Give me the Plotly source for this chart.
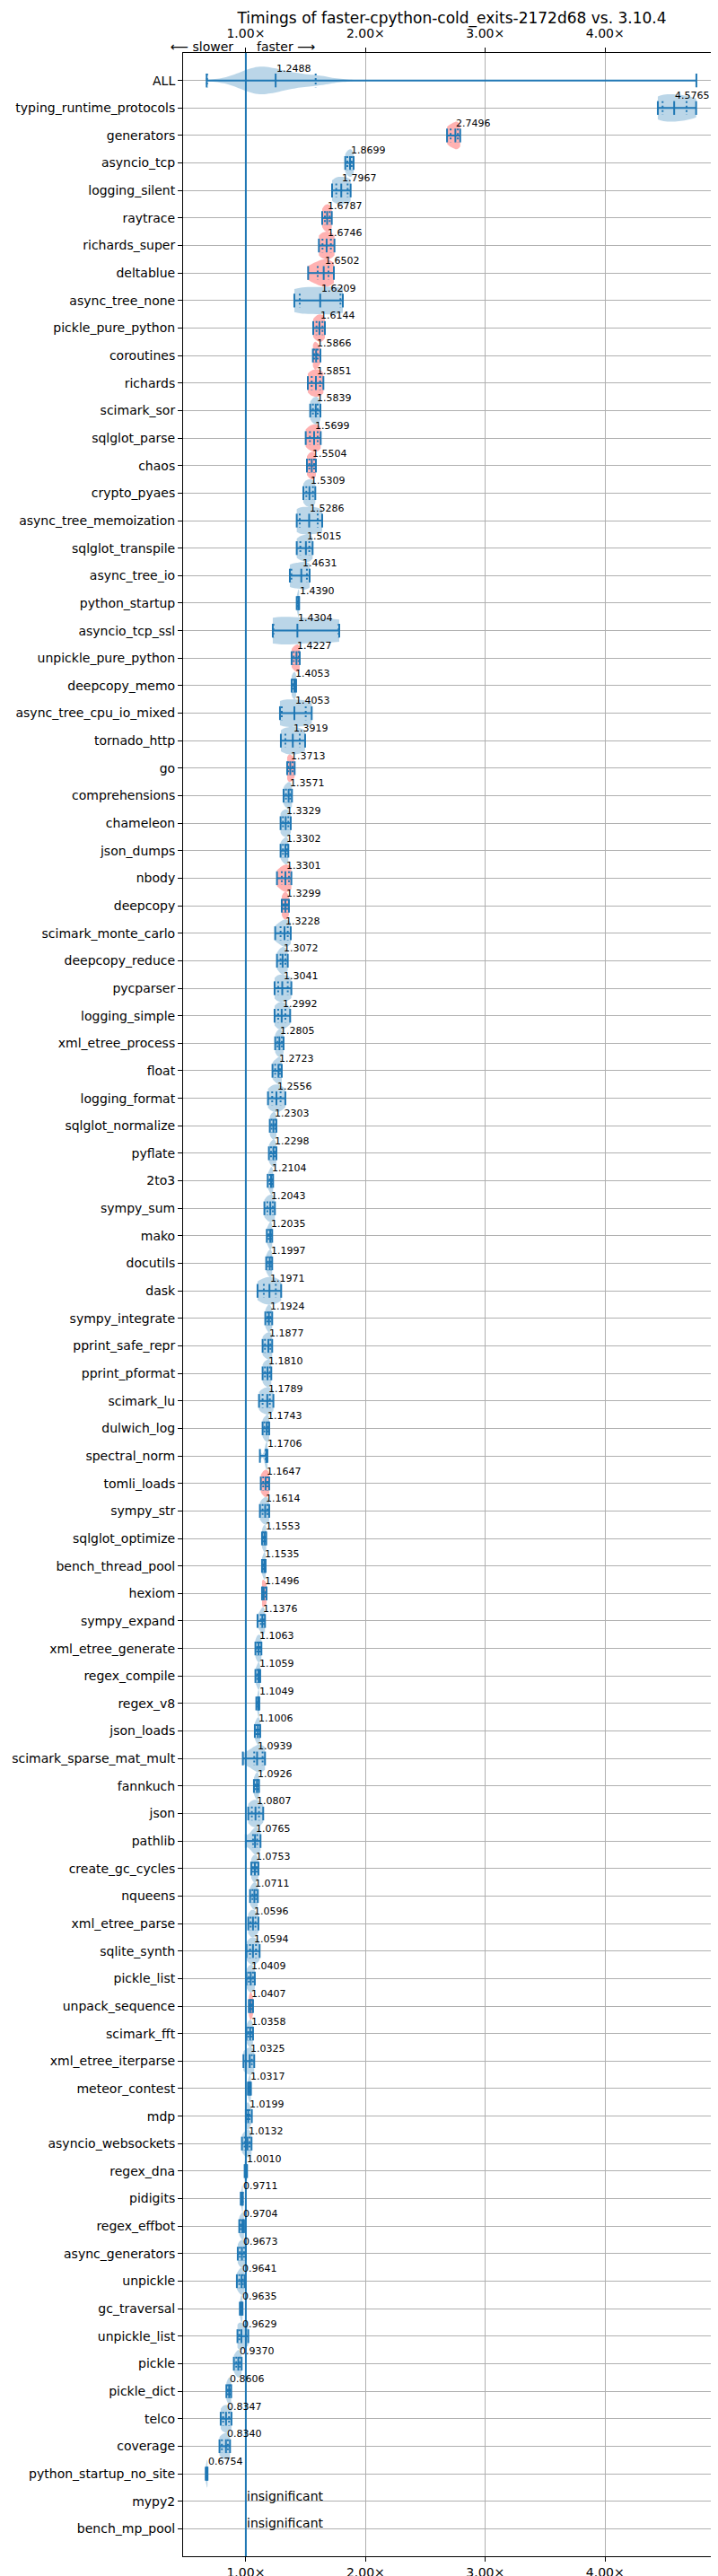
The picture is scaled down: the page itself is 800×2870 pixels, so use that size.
import plotly.graph_objects as go

TITLE = "Timings of faster-cpython-cold_exits-2172d68 vs. 3.10.4"

benchmarks = [
    "ALL", "typing_runtime_protocols", "generators", "asyncio_tcp", "logging_silent",
    "raytrace", "richards_super", "deltablue", "async_tree_none", "pickle_pure_python",
    "coroutines", "richards", "scimark_sor", "sqlglot_parse", "chaos",
    "crypto_pyaes", "async_tree_memoization", "sqlglot_transpile", "async_tree_io", "python_startup",
    "asyncio_tcp_ssl", "unpickle_pure_python", "deepcopy_memo", "async_tree_cpu_io_mixed", "tornado_http",
    "go", "comprehensions", "chameleon", "json_dumps", "nbody",
    "deepcopy", "scimark_monte_carlo", "deepcopy_reduce", "pycparser", "logging_simple",
    "xml_etree_process", "float", "logging_format", "sqlglot_normalize", "pyflate",
    "2to3", "sympy_sum", "mako", "docutils", "dask",
    "sympy_integrate", "pprint_safe_repr", "pprint_pformat", "scimark_lu", "dulwich_log",
    "spectral_norm", "tomli_loads", "sympy_str", "sqlglot_optimize", "bench_thread_pool",
    "hexiom", "sympy_expand", "xml_etree_generate", "regex_compile", "regex_v8",
    "json_loads", "scimark_sparse_mat_mult", "fannkuch", "json", "pathlib",
    "create_gc_cycles", "nqueens", "xml_etree_parse", "sqlite_synth", "pickle_list",
    "unpack_sequence", "scimark_fft", "xml_etree_iterparse", "meteor_contest", "mdp",
    "asyncio_websockets", "regex_dna", "pidigits", "regex_effbot", "async_generators",
    "unpickle", "gc_traversal", "unpickle_list", "pickle", "pickle_dict",
    "telco", "coverage", "python_startup_no_site", "mypy2", "bench_mp_pool",
]

medians = [
    1.2488, 4.5765, 2.7496, 1.8699, 1.7967,
    1.6787, 1.6746, 1.6502, 1.6209, 1.6144,
    1.5866, 1.5851, 1.5839, 1.5699, 1.5504,
    1.5309, 1.5286, 1.5015, 1.4631, 1.4390,
    1.4304, 1.4227, 1.4053, 1.4053, 1.3919,
    1.3713, 1.3571, 1.3329, 1.3302, 1.3301,
    1.3299, 1.3228, 1.3072, 1.3041, 1.2992,
    1.2805, 1.2723, 1.2556, 1.2303, 1.2298,
    1.2104, 1.2043, 1.2035, 1.1997, 1.1971,
    1.1924, 1.1877, 1.1810, 1.1789, 1.1743,
    1.1706, 1.1647, 1.1614, 1.1553, 1.1535,
    1.1496, 1.1376, 1.1063, 1.1059, 1.1049,
    1.1006, 1.0939, 1.0926, 1.0807, 1.0765,
    1.0753, 1.0711, 1.0596, 1.0594, 1.0409,
    1.0407, 1.0358, 1.0325, 1.0317, 1.0199,
    1.0132, 1.0010, 0.9711, 0.9704, 0.9673,
    0.9641, 0.9635, 0.9629, 0.9370, 0.8606,
    0.8347, 0.8340, 0.6754, None, None,
]

lows = [
    0.673, 4.44, 2.68, 1.83, 1.72,
    1.6375, 1.61, 1.52, 1.405, 1.5625,
    1.56, 1.5175, 1.5375, 1.50, 1.51,
    1.48, 1.425, 1.425, 1.3675, 1.425,
    1.225, 1.3825, 1.3825, 1.285, 1.2925,
    1.345, 1.315, 1.29, 1.29, 1.26,
    1.30, 1.245, 1.26, 1.24, 1.24,
    1.245, 1.2225, 1.185, 1.20, 1.1925,
    1.1825, 1.155, 1.175, 1.17, 1.0975,
    1.1625, 1.14, 1.14, 1.11, 1.14,
    1.1175, 1.125, 1.1175, 1.135, 1.135,
    1.135, 1.0975, 1.08, 1.08, 1.0875,
    1.075, 0.975, 1.0675, 1.02, 1.00,
    1.045, 1.035, 1.02, 1.005, 1.005,
    1.025, 1.005, 0.98, 1.0175, 1.00,
    0.9675, 0.99, 0.9575, 0.945, 0.9325,
    0.925, 0.95, 0.93, 0.90, 0.8375,
    0.79, 0.78, 0.665, None, None,
]

q_lows = [
    0.676, 4.48, 2.71, 1.848, 1.755,
    1.66, 1.64, 1.60, 1.45, 1.59,
    1.57, 1.55, 1.56, 1.535, 1.53,
    1.505, 1.45, 1.455, 1.38, 1.432,
    1.23, 1.40, 1.39, 1.30, 1.33,
    1.355, 1.335, 1.31, 1.31, 1.30,
    1.315, 1.29, 1.29, 1.27, 1.27,
    1.265, 1.245, 1.22, 1.215, 1.21,
    1.20, 1.18, 1.19, 1.185, 1.15,
    1.18, 1.16, 1.16, 1.14, 1.155,
    1.165, 1.145, 1.14, 1.145, 1.145,
    1.14, 1.125, 1.095, 1.095, 1.10,
    1.09, 1.07, 1.08, 1.05, 1.06,
    1.06, 1.055, 1.04, 1.035, 1.025,
    1.035, 1.02, 1.00, 1.025, 1.01,
    0.99, 0.995, 0.965, 0.955, 0.95,
    0.945, 0.958, 0.945, 0.92, 0.85,
    0.81, 0.80, 0.670, None, None,
]

q_highs = [
    1.583, 4.68, 2.77, 1.883, 1.85,
    1.70, 1.71, 1.69, 1.79, 1.64,
    1.60, 1.62, 1.60, 1.60, 1.57,
    1.56, 1.60, 1.53, 1.51, 1.442,
    1.775, 1.44, 1.41, 1.50, 1.45,
    1.39, 1.37, 1.355, 1.345, 1.36,
    1.345, 1.35, 1.33, 1.35, 1.33,
    1.30, 1.285, 1.29, 1.245, 1.24,
    1.22, 1.225, 1.21, 1.21, 1.25,
    1.205, 1.205, 1.20, 1.20, 1.185,
    1.175, 1.18, 1.18, 1.165, 1.16,
    1.165, 1.15, 1.12, 1.11, 1.108,
    1.11, 1.14, 1.10, 1.11, 1.095,
    1.09, 1.085, 1.08, 1.085, 1.06,
    1.05, 1.045, 1.05, 1.037, 1.03,
    1.03, 1.005, 0.973, 0.978, 0.985,
    0.975, 0.968, 1.00, 0.95, 0.87,
    0.86, 0.85, 0.678, None, None,
]

highs = [
    4.762, 4.76, 2.79, 1.90, 1.875,
    1.7175, 1.74, 1.735, 1.81, 1.66,
    1.6225, 1.6475, 1.6225, 1.625, 1.585,
    1.58, 1.6375, 1.5575, 1.5325, 1.445,
    1.78, 1.45, 1.42, 1.55, 1.495,
    1.4075, 1.385, 1.375, 1.355, 1.38,
    1.36, 1.375, 1.35, 1.38, 1.37,
    1.315, 1.30, 1.33, 1.255, 1.255,
    1.2275, 1.2425, 1.22, 1.22, 1.295,
    1.22, 1.22, 1.2125, 1.23, 1.195,
    1.18, 1.195, 1.195, 1.17, 1.165,
    1.1725, 1.16, 1.13, 1.12, 1.1125,
    1.12, 1.16, 1.11, 1.145, 1.1225,
    1.105, 1.10, 1.105, 1.115, 1.075,
    1.06, 1.06, 1.07, 1.0425, 1.05,
    1.0475, 1.01, 0.975, 0.985, 1.00,
    0.99, 0.9725, 1.02, 0.965, 0.8775,
    0.88, 0.868, 0.68, None, None,
]

# benchmarks drawn with a red violin
red_violins = [
    "generators", "raytrace", "richards_super", "deltablue", "pickle_pure_python",
    "coroutines", "richards", "sqlglot_parse", "chaos", "unpickle_pure_python",
    "go", "nbody", "deepcopy", "tomli_loads", "hexiom", "unpack_sequence",
]

x_ticks = [1.0, 2.0, 3.0, 4.0]
x_tick_labels = ["1.00×", "2.00×", "3.00×", "4.00×"]
baseline = 1.0

BLUE = "#1f77b4"
BLUE_FILL = "rgba(31,119,180,0.3)"
RED_FILL = "rgba(255,0,0,0.3)"
FONT = "DejaVu Sans"


def violin_samples(i):
    if i == 0:
        # the ALL row shows every benchmark together
        return [m for m in medians[1:] if m is not None]
    return [lows[i], q_lows[i], medians[i], q_highs[i], highs[i]]


fig = go.Figure()

for i, name in enumerate(benchmarks):
    if medians[i] is None:
        continue
    fig.add_trace(go.Violin(
        x=violin_samples(i),
        y0=i,
        orientation="h",
        width=1.0,
        spanmode="manual",
        span=[lows[i], highs[i]],
        scalemode="width",
        fillcolor=RED_FILL if name in red_violins else BLUE_FILL,
        line=dict(color="rgba(0,0,0,0)", width=0),
        points=False,
        hoverinfo="skip",
        showlegend=False,
    ))

# min-max bars, caps and median ticks
bar_x, bar_y, tick_x, tick_y, q_x, q_y = [], [], [], [], [], []
for i in range(len(benchmarks)):
    if medians[i] is None:
        continue
    bar_x += [lows[i], highs[i], None]
    bar_y += [i, i, None]
    for v in (lows[i], highs[i], medians[i]):
        tick_x += [v, v, None]
        tick_y += [i - 0.25, i + 0.25, None]
    for v in (q_lows[i], q_highs[i]):
        q_x += [v, v, None]
        q_y += [i - 0.25, i + 0.25, None]

# the bars sit on the top axis (same range) so that axis gets drawn
fig.add_trace(go.Scatter(x=bar_x, y=bar_y, xaxis="x2", mode="lines",
                         line=dict(color=BLUE, width=2),
                         hoverinfo="skip", showlegend=False))
fig.add_trace(go.Scatter(x=tick_x, y=tick_y, mode="lines", line=dict(color=BLUE, width=2),
                         hoverinfo="skip", showlegend=False))
fig.add_trace(go.Scatter(x=q_x, y=q_y, mode="lines",
                         line=dict(color=BLUE, width=2, dash="2px,3px"),
                         hoverinfo="skip", showlegend=False))

fig.add_vline(x=baseline, line=dict(color=BLUE, width=2), layer="above")

# value labels
for i, name in enumerate(benchmarks):
    if medians[i] is None:
        fig.add_annotation(x=baseline, y=i + 0.1, text="insignificant", showarrow=False,
                           xanchor="left", yanchor="bottom", borderpad=0,
                           font=dict(family=FONT, size=14, color="black"))
    else:
        fig.add_annotation(x=medians[i], y=i - 0.2, text=f"{medians[i]:.4f}", showarrow=False,
                           xanchor="left", yanchor="bottom", borderpad=0,
                           font=dict(family=FONT, size=11, color="black"))

fig.add_annotation(x=baseline, y=1, xref="x", yref="paper", text="⟵ slower", showarrow=False,
                   xanchor="right", yanchor="middle", xshift=-12, yshift=7,
                   font=dict(family=FONT, size=14, color="black"))
fig.add_annotation(x=baseline, y=1, xref="x", yref="paper", text="faster ⟶", showarrow=False,
                   xanchor="left", yanchor="middle", xshift=10, yshift=7,
                   font=dict(family=FONT, size=14, color="black"))

x_range = [0.476, 4.965]
axis_common = dict(
    range=x_range, tickvals=x_ticks, ticktext=x_tick_labels,
    ticks="outside", ticklen=5, tickcolor="black",
    tickfont=dict(family=FONT, size=14, color="black"),
)

fig.update_layout(
    width=800,
    height=2870,
    margin=dict(l=196, r=4, t=51, b=22),
    paper_bgcolor="white",
    plot_bgcolor="white",
    violinmode="overlay",
    title=dict(text=TITLE, x=0.5, xref="paper", y=1 - 12 / 2870, yref="container",
               yanchor="middle", font=dict(family=FONT, size=17, color="black")),
    xaxis=dict(showgrid=True, gridcolor="#b0b0b0", gridwidth=1,
               showline=True, linecolor="black", linewidth=1, mirror=True,
               zeroline=False, **axis_common),
    xaxis2=dict(overlaying="x", side="top", showgrid=False, zeroline=False,
                anchor="y", ticklabelstandoff=5, **axis_common),
    yaxis=dict(type="linear", range=[90, -1], tickvals=list(range(len(benchmarks))),
               ticktext=benchmarks, showgrid=True, gridcolor="#b0b0b0", gridwidth=1,
               showline=True, linecolor="black", linewidth=1, mirror=True,
               zeroline=False, ticks="outside", ticklen=5, tickcolor="black",
               tickfont=dict(family=FONT, size=14, color="black")),
)

fig.write_html("out.html")
